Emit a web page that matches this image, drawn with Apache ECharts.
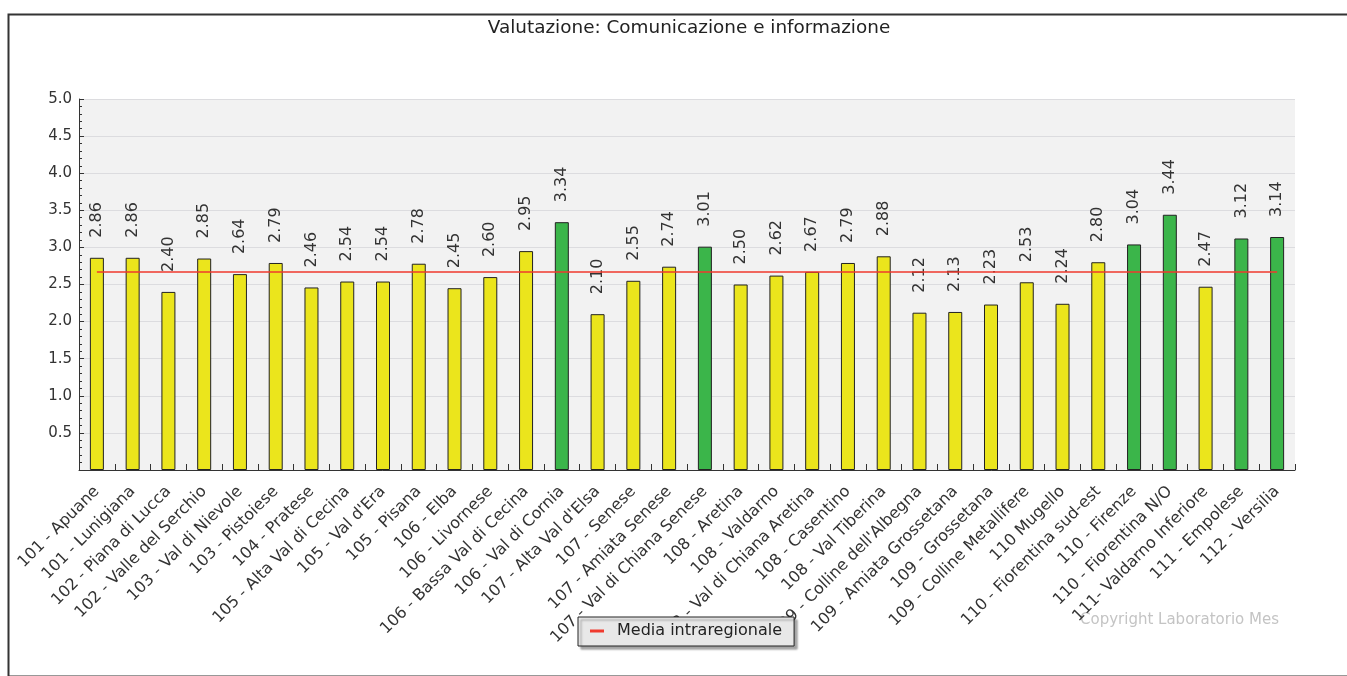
<!DOCTYPE html>
<html>
<head>
<meta charset="utf-8">
<script src="https://cdn.jsdelivr.net/npm/echarts@6/dist/echarts.min.js"></script>
<style>
  html, body { margin: 0; padding: 0; background: #fff; }
  #chart { width: 1347px; height: 676px; }
</style>
</head>
<body>
<div id="chart"></div>
<script>
// dati
var categories = [
  '101 - Apuane', '101 - Lunigiana', '102 - Piana di Lucca', '102 - Valle del Serchio',
  '103 - Val di Nievole', '103 - Pistoiese', '104 - Pratese', '105 - Alta Val di Cecina',
  "105 - Val d'Era", '105 - Pisana', '106 - Elba', '106 - Livornese',
  '106 - Bassa Val di Cecina', '106 - Val di Cornia', "107 - Alta Val d'Elsa", '107 - Senese',
  '107 - Amiata Senese', '107 - Val di Chiana Senese', '108 - Aretina', '108 - Valdarno',
  '108 - Val di Chiana Aretina', '108 - Casentino', '108 - Val Tiberina', "109 - Colline dell'Albegna",
  '109 - Amiata Grossetana', '109 - Grossetana', '109 - Colline Metallifere', '110 Mugello',
  '110 - Fiorentina sud-est', '110 - Firenze', '110 - Fiorentina N/O', '111- Valdarno Inferiore',
  '111 - Empolese', '112 - Versilia'
];
var values = [
  2.86, 2.86, 2.40, 2.85, 2.64, 2.79, 2.46, 2.54, 2.54, 2.78, 2.45, 2.60,
  2.95, 3.34, 2.10, 2.55, 2.74, 3.01, 2.50, 2.62, 2.67, 2.79, 2.88, 2.12,
  2.13, 2.23, 2.53, 2.24, 2.80, 3.04, 3.44, 2.47, 3.12, 3.14
];
var mediaIntraregionale = 2.67;
var soglia = 3.0;

var font = 'DejaVu Sans';
var chart = echarts.init(document.getElementById('chart'));

var barData = values.map(function (v) {
  return { value: v, itemStyle: { color: v >= soglia ? '#3bb54a' : '#ebe51c' } };
});
var mediaData = categories.map(function () { return mediaIntraregionale; });

var option = {
  backgroundColor: '#ffffff',
  animation: false,
  textStyle: { fontFamily: font },
  title: {
    text: 'Valutazione: Comunicazione e informazione',
    left: 684, top: 14, textAlign: 'center',
    textStyle: { fontFamily: font, fontSize: 18.4, fontWeight: 'normal', color: '#222' }
  },
  graphic: [
    {
      type: 'rect', left: 6, top: 12, silent: true,
      shape: { width: 1400, height: 662 },
      style: { fill: 'none', stroke: '#333', lineWidth: 2 }
    },
    {
      type: 'text', left: 1080, top: 613,
      style: { text: 'Copyright Laboratorio Mes', fill: '#c4c4c4', font: '15px "DejaVu Sans"' }
    }
  ],
  legend: {
    data: ['Media intraregionale'],
    left: 578, top: 617,
    padding: [6, 12, 7, 12],
    backgroundColor: '#e8e8e8',
    borderColor: '#222',
    borderWidth: 1,
    borderRadius: 0,
    shadowColor: 'rgba(0,0,0,0.35)',
    shadowBlur: 2,
    shadowOffsetX: 3,
    shadowOffsetY: 3,
    itemWidth: 14,
    itemHeight: 3,
    itemGap: 10,
    icon: 'rect',
    textStyle: { fontFamily: font, fontSize: 16, color: '#222', padding: [0, 0, 0, 8] }
  },
  grid: {
    left: 79, right: 52, top: 99, bottom: 206,
    show: true, backgroundColor: '#f2f2f2', borderWidth: 0
  },
  xAxis: {
    type: 'category',
    data: categories,
    boundaryGap: true,
    axisLine: { lineStyle: { color: '#333', width: 1 } },
    axisTick: { show: true, inside: true, length: 6, lineStyle: { color: '#333' } },
    axisLabel: {
      interval: 0, rotate: 45, fontSize: 16, color: '#333', fontFamily: font, margin: 19
    },
    splitLine: { show: false }
  },
  yAxis: {
    type: 'value',
    min: 0, max: 5, interval: 0.5,
    axisLine: { show: true, lineStyle: { color: '#333', width: 1 } },
    axisTick: { show: true, inside: true, length: 5, lineStyle: { color: '#333' } },
    minorTick: { show: true, splitNumber: 5, length: 3, lineStyle: { color: '#333' } },
    axisLabel: {
      fontSize: 15, color: '#333', fontFamily: font, margin: 7,
      formatter: function (v) { return v === 0 ? '' : v.toFixed(1); }
    },
    splitLine: { show: true, lineStyle: { color: '#dcdcdf', width: 1 } }
  },
  series: [
    {
      name: 'Valutazione',
      type: 'bar',
      data: barData,
      barWidth: 14,
      itemStyle: { borderColor: '#222', borderWidth: 1 },
      label: {
        show: true, position: 'top', distance: 20, rotate: 90,
        align: 'left', verticalAlign: 'middle',
        fontSize: 16, color: '#333', fontFamily: font,
        formatter: function (p) { return p.value.toFixed(2); }
      },
      z: 2
    },
    {
      name: 'Media intraregionale',
      type: 'line',
      data: mediaData,
      showSymbol: false,
      symbol: 'none',
      lineStyle: { color: '#f03a2e', width: 1.5 },
      itemStyle: { color: '#f03a2e' },
      z: 3
    }
  ]
};

chart.setOption(option);
</script>
</body>
</html>
